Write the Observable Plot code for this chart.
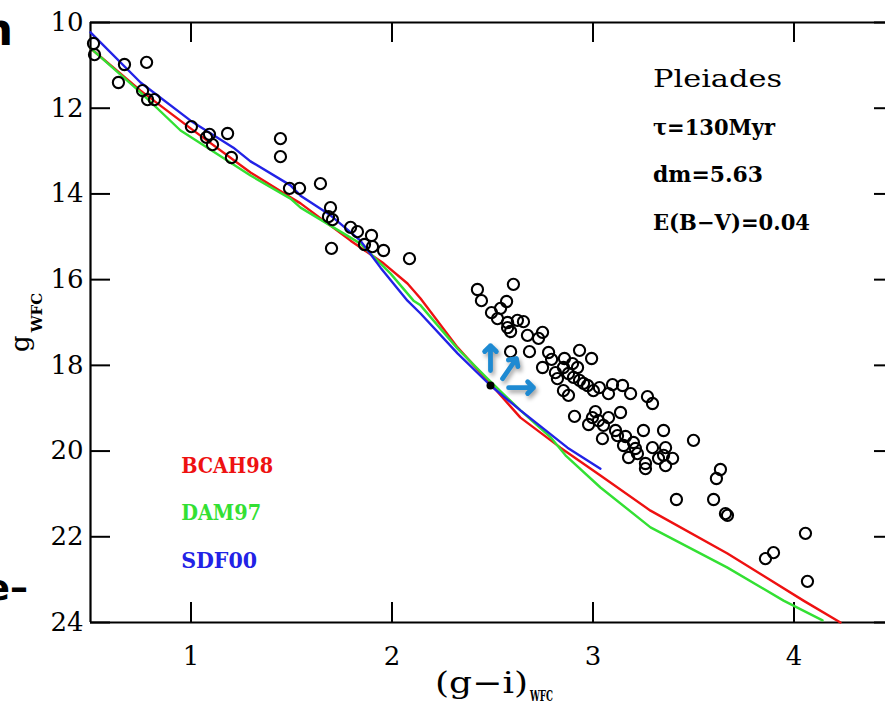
<!DOCTYPE html>
<html>
<head>
<meta charset="utf-8">
<script src="https://cdn.jsdelivr.net/npm/d3@7"></script>
<script src="https://cdn.jsdelivr.net/npm/@observablehq/plot@0.6"></script>
<style>
  html, body { margin: 0; padding: 0; background: #ffffff; overflow: hidden; }
  #chart svg { display: block; }
</style>
</head>
<body>
<div id="chart"></div>
<script>
// ---- tick values ----
const xTicks = [1, 2, 3, 4];
const yTicks = [10, 12, 14, 16, 18, 20, 22, 24];

// ---- isochrones ----
const bcahX = [0.5, 0.749, 0.998, 1.296, 1.495, 1.545, 1.794, 1.958, 2.077, 2.142, 2.326, 2.475, 2.639, 2.838, 3.037, 3.286, 3.669, 4.047, 4.231];
const bcahY = [10.6, 11.59, 12.47, 13.50, 14.08, 14.22, 15.09, 15.62, 16.09, 16.44, 17.58, 18.35, 19.22, 19.92, 20.57, 21.39, 22.39, 23.49, 24.0];

const damX = [0.5, 0.749, 0.948, 1.047, 1.296, 1.495, 1.545, 1.843, 1.993, 2.107, 2.142, 2.326, 2.475, 2.639, 2.789, 2.863, 3.037, 3.286, 3.669, 3.948, 4.142];
const damY = [10.6, 11.63, 12.52, 12.82, 13.57, 14.11, 14.32, 15.16, 15.86, 16.49, 16.60, 17.61, 18.31, 19.05, 19.68, 20.10, 20.85, 21.78, 22.72, 23.49, 23.95];

const sdfX = [0.5, 0.749, 0.998, 1.211, 1.296, 1.495, 1.545, 1.694, 1.843, 1.943, 2.077, 2.142, 2.326, 2.490, 2.639, 2.873, 3.037];
const sdfY = [10.23, 11.40, 12.29, 12.92, 13.24, 13.80, 14.04, 14.50, 15.09, 15.72, 16.49, 16.79, 17.72, 18.47, 19.05, 19.92, 20.41];

// ---- Pleiades members: (g-i)_WFC and g_WFC ----
const starX = [0.515, 0.520, 0.639, 0.669, 0.779, 0.759, 0.784, 0.818, 1.002, 1.077, 1.092, 1.107, 1.182, 1.201,
  1.445, 1.445, 1.490, 1.540, 1.644, 1.694, 1.684, 1.704, 1.699, 1.794, 1.828, 1.898, 1.863, 1.903, 1.958, 2.087,
  2.425, 2.445, 2.604, 2.570, 2.540, 2.495, 2.525, 2.575, 2.624, 2.654, 2.575, 2.590, 2.674, 2.749, 2.729,
  2.590, 2.684, 2.779, 2.749, 2.794, 2.813, 2.933, 2.993, 2.858, 2.898, 2.853, 2.923, 2.823, 2.878, 2.903,
  2.933, 2.953, 2.973, 2.853, 2.878, 3.002, 3.032, 3.097, 3.077, 3.147, 3.187, 3.271, 3.296, 2.908, 3.012,
  2.997, 3.137, 2.978, 3.027, 3.052, 3.077, 3.112, 3.122, 3.047, 3.162, 3.152, 3.201, 3.211, 3.177, 3.221,
  3.251, 3.351, 3.296, 3.361, 3.351, 3.326, 3.396, 3.361, 3.261, 3.261, 3.500, 3.634, 3.614, 3.415, 3.600,
  3.659, 3.669, 4.057, 3.898, 3.858, 4.067];
const starY = [10.49, 10.75, 11.40, 10.98, 10.93, 11.59, 11.80, 11.80, 12.43, 12.68, 12.61, 12.85, 12.59, 13.15,
  12.71, 13.13, 13.87, 13.87, 13.76, 14.32, 14.53, 14.60, 15.27, 14.78, 14.88, 14.97, 15.18, 15.23, 15.32, 15.51,
  16.23, 16.49, 16.11, 16.51, 16.67, 16.77, 16.91, 17.00, 16.95, 16.98, 17.12, 17.21, 17.30, 17.23, 17.37,
  17.68, 17.68, 17.70, 18.05, 17.86, 18.17, 17.65, 17.84, 17.84, 17.96, 18.05, 18.05, 18.31, 18.19, 18.28,
  18.35, 18.42, 18.47, 18.59, 18.70, 18.59, 18.52, 18.45, 18.66, 18.47, 18.66, 18.73, 18.89, 19.19, 19.08,
  19.22, 19.10, 19.38, 19.29, 19.40, 19.22, 19.52, 19.64, 19.71, 19.66, 19.87, 19.80, 19.94, 20.15, 20.06,
  19.52, 19.52, 19.92, 19.92, 20.10, 20.17, 20.17, 20.34, 20.29, 20.41, 19.75, 20.43, 20.64, 21.13, 21.13,
  21.46, 21.50, 21.92, 22.37, 22.51, 23.04];

// ---- highlighted star and arrows ----
const markX = [2.49];
const markY = [18.47];
const arrowX1 = [2.490, 2.550, 2.580];
const arrowY1 = [18.12, 18.31, 18.52];
const arrowX2 = [2.490, 2.619, 2.704];
const arrowY2 = [17.54, 17.84, 18.52];

// ---- labels ----
const modelNames = ["BCAH98", "DAM97", "SDF00"];
const modelColors = ["#ee1111", "#33e033", "#2222e6"];
const infoLines = ["Pleiades", "τ=130Myr", "dm=5.63", "E(B−V)=0.04"];

// build tables
const toRows = (xs, ys) => xs.map((x, i) => ({x, y: ys[i]}));
const bcah = toRows(bcahX, bcahY);
const dam = toRows(damX, damY);
const sdf = toRows(sdfX, sdfY);
const stars = toRows(starX, starY);
const mark = toRows(markX, markY);
const arrows = arrowX1.map((x1, i) => ({x1, y1: arrowY1[i], x2: arrowX2[i], y2: arrowY2[i]}));

const W = 885, H = 704, mL = 90, mT = 22, mB = 82, mR = 0;
const pxPerX = 201;                       // reference: one colour unit
const xMax = 0.5 + (W - mL - mR) / pxPerX;
const pxPerY = (H - mT - mB) / 14;
const tickPx = 20;
const tX = tickPx / pxPerX, tY = tickPx / pxPerY;

const svg = Plot.plot({
  width: W, height: H,
  marginLeft: mL, marginTop: mT, marginBottom: mB, marginRight: mR,
  style: {background: "#ffffff", fontFamily: "DejaVu Serif", color: "#000", overflow: "hidden"},
  x: {domain: [0.5, xMax], axis: null},
  y: {domain: [10, 24], reverse: true, axis: null},
  marks: [
    // inward ticks on all sides
    Plot.ruleX(xTicks, {x: d => d, y1: 24, y2: 24 - tY, stroke: "#000", strokeWidth: 2}),
    Plot.ruleX(xTicks, {x: d => d, y1: 10, y2: 10 + tY, stroke: "#000", strokeWidth: 2}),
    Plot.ruleY(yTicks, {y: d => d, x1: 0.5, x2: 0.5 + tX, stroke: "#000", strokeWidth: 2}),
    Plot.ruleY(yTicks, {y: d => d, x1: 4.5 - tX, x2: 4.5, stroke: "#000", strokeWidth: 2}),
    // frame
    Plot.ruleX([0.5], {stroke: "#000", strokeWidth: 2.2}),
    Plot.ruleY([10, 24], {stroke: "#000", strokeWidth: 2.2}),
    Plot.axisX({ticks: xTicks, tickSize: 0, tickPadding: 24, fontSize: 26, label: null, tickFormat: d => String(d)}),
    Plot.axisY({ticks: yTicks, tickSize: 0, tickPadding: 7, fontSize: 26, label: null, tickFormat: d => String(d)}),
    // isochrones
    Plot.line(bcah, {x: "x", y: "y", stroke: modelColors[0], strokeWidth: 2.4, curve: "linear"}),
    Plot.line(dam, {x: "x", y: "y", stroke: modelColors[1], strokeWidth: 2.4, curve: "linear"}),
    Plot.line(sdf, {x: "x", y: "y", stroke: modelColors[2], strokeWidth: 2.4, curve: "linear"}),
    // stars
    Plot.dot(stars, {x: "x", y: "y", r: 5.6, stroke: "#000", strokeWidth: 2.1, fill: "none"}),
    Plot.dot(mark, {x: "x", y: "y", r: 4, fill: "#000", stroke: "none"}),
    // arrows
    Plot.arrow(arrows, {x1: "x1", y1: "y1", x2: "x2", y2: "y2", stroke: "#1e8ad2", strokeWidth: 4.8, headLength: 14, headAngle: 90})
  ]
});

const sx = svg.scale("x"), sy = svg.scale("y");
const root = d3.select(svg);

// arrow shadow
root.selectAll('g[aria-label="arrow"]').style("filter", "drop-shadow(2px 3px 2px rgba(0,0,0,0.35))");

// info block (upper right)
const infoSizes = [25, 22, 22, 22];
const infoWeights = ["normal", "bold", "bold", "bold"];
const infoBase = [11.52, 12.63, 13.73, 14.85];
const infoWidth = [129, 122, 110, 157];
infoLines.forEach((t, i) => {
  root.append("text")
    .attr("x", sx.apply(3.301)).attr("y", sy.apply(infoBase[i]))
    .attr("text-anchor", "start")
    .attr("font-family", "DejaVu Serif").attr("font-size", infoSizes[i])
    .attr("font-weight", infoWeights[i]).attr("fill", "#000")
    .attr("textLength", infoWidth[i]).attr("lengthAdjust", "spacingAndGlyphs")
    .text(t);
});

// model labels (lower left)
const modelBase = [20.52, 21.62, 22.74];
const modelWidth = [92, 80, 76];
modelNames.forEach((t, i) => {
  root.append("text")
    .attr("x", sx.apply(0.9534)).attr("y", sy.apply(modelBase[i]))
    .attr("text-anchor", "start")
    .attr("font-family", "DejaVu Serif").attr("font-size", 23).attr("font-weight", "bold")
    .attr("fill", modelColors[i])
    .attr("textLength", modelWidth[i]).attr("lengthAdjust", "spacingAndGlyphs")
    .text(t);
});

// x-axis title
const xt = root.append("text").attr("x", 435).attr("y", 693).attr("text-anchor", "start")
  .attr("font-family", "DejaVu Serif").attr("fill", "#000");
xt.append("tspan").attr("font-size", 30).attr("textLength", 93).attr("lengthAdjust", "spacingAndGlyphs").text("(g−i)");
xt.append("tspan").attr("font-size", 15).attr("font-weight", "bold").attr("dx", 2).attr("dy", 8)
  .attr("textLength", 23).attr("lengthAdjust", "spacingAndGlyphs").text("WFC");

// y-axis title (rotated)
const yt = root.append("text").attr("transform", "translate(29,352) rotate(-90)").attr("text-anchor", "start")
  .attr("font-family", "DejaVu Serif").attr("fill", "#000");
yt.append("tspan").attr("font-size", 26).text("g");
yt.append("tspan").attr("font-size", 15).attr("font-weight", "bold").attr("dx", 3).attr("dy", 13).text("WFC");

// fragments of neighbouring slide text at the left edge
root.append("text").attr("x", 13).attr("y", 45).attr("text-anchor", "end")
  .attr("font-family", "DejaVu Sans").attr("font-weight", "bold").attr("font-size", 44).attr("fill", "#000").text("n");
root.append("text").attr("x", 28).attr("y", 600).attr("text-anchor", "end")
  .attr("font-family", "DejaVu Sans").attr("font-weight", "bold").attr("font-size", 36).attr("fill", "#000").text("e–");

document.getElementById("chart").appendChild(svg);
</script>
</body>
</html>
